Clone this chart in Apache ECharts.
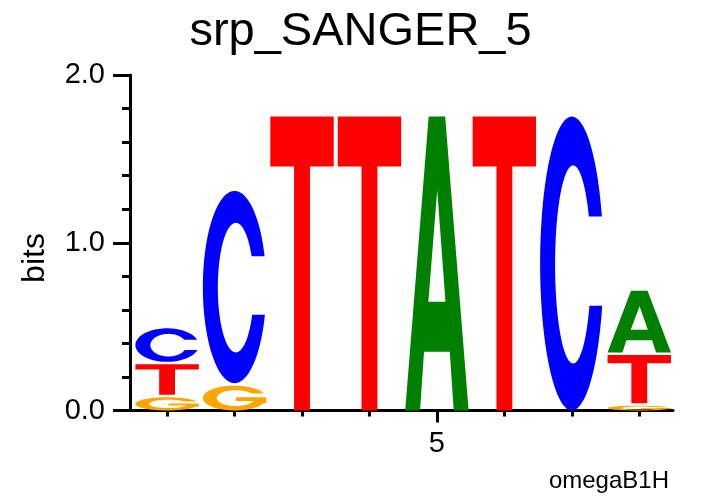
<!DOCTYPE html>
<html>
<head>
<meta charset="utf-8">
<script src="https://cdn.jsdelivr.net/npm/echarts@6/dist/echarts.min.js"></script>
<style>
html,body{margin:0;padding:0;background:#fff;}
#chart{width:721px;height:496px;}
</style>
</head>
<body>
<div id="chart"></div>
<script>
// ---- data (bits per letter at each position) ----
const titleText = 'srp_SANGER_5';
const yAxisName = 'bits';
const footnote = 'omegaB1H';
const positions = [1, 2, 3, 4, 5, 6, 7, 8];
const letters = ['A', 'C', 'G', 'T'];
const heightA = [0, 0, 0, 0, 1.752, 0, 0, 0.383];
const heightC = [0.215, 1.161, 0, 0, 0, 0, 1.752, 0];
const heightG = [0.079, 0.148, 0, 0, 0, 0, 0, 0.029];
const heightT = [0.196, 0, 1.752, 1.752, 0, 1.752, 0, 0.302];
const yTickValues = [0, 1, 2];
const xLabelValues = [5];
const xMinorTickValues = [1, 2, 3, 4, 6, 7, 8];

const letterColors = { A: '#008000', C: '#0000ff', G: '#ffa500', T: '#ff0000' };
const FONT = '"Liberation Sans", Arial, Helvetica, sans-serif';

// ---- glyph outlines (normalised 0..100 box, y down) ----
function arc(cx, cy, rx, ry, a0, a1, n) {
  const pts = [];
  for (let i = 0; i <= n; i++) {
    const a = (a0 + (a1 - a0) * i / n) * Math.PI / 180;
    pts.push([cx + rx * Math.cos(a), cy - ry * Math.sin(a)]);
  }
  return pts;
}
function deg(v) { return Math.asin(Math.max(-1, Math.min(1, v))) * 180 / Math.PI; }
function area(p) {
  let s = 0;
  for (let i = 0; i < p.length; i++) {
    const a = p[i], b = p[(i + 1) % p.length];
    s += a[0] * b[1] - b[0] * a[1];
  }
  return s;
}
function orient(p, positive) {
  const s = area(p);
  if ((s > 0) !== positive) return p.slice().reverse();
  return p;
}
function glyphC() {
  const ocx = 50, ocy = 50, orx = 50, ory = 50;
  const icx = 52, icy = 50.3, irx = 28.4, iry = 33.7;
  const yTop = 34, yBot = 64.4;
  const o0 = deg((ocy - yTop) / ory), o1 = 360 + deg((ocy - yBot) / ory);
  const i0 = deg((icy - yTop) / iry), i1 = 360 + deg((icy - yBot) / iry);
  const outer = arc(ocx, ocy, orx, ory, o0, o1, 90);
  const inner = arc(icx, icy, irx, iry, i1, i0, 90);
  return [outer.concat(inner)];
}
function glyphG() {
  const ocx = 50, ocy = 50, orx = 50, ory = 50;
  const icx = 52, icy = 50, irx = 30, iry = 32;
  const yTop = 32;
  const o0 = deg((ocy - yTop) / ory);
  const outer = arc(ocx, ocy, orx, ory, o0, 335, 90);
  const last = outer[outer.length - 1];
  const barTop = 47, barBot = 62, barLeft = 52;
  const ia = 360 + deg((icy - barBot) / iry);
  const i0 = deg((icy - yTop) / iry);
  const inner = arc(icx, icy, irx, iry, ia, i0, 90);
  const pts = outer.concat([[100, last[1]], [100, barTop], [barLeft, barTop], [barLeft, barBot]]).concat(inner);
  return [pts];
}
function glyphT() {
  return [[[0, 0], [100, 0], [100, 17], [62.5, 17], [62.5, 100], [37.5, 100], [37.5, 17], [0, 17]]];
}
function glyphA() {
  const outer = [[0, 100], [37, 0], [63, 0], [100, 100], [76.5, 100], [70.3, 80], [29.7, 80], [23.4, 100]];
  const hole = [[36.5, 63], [50.5, 25], [63.5, 63]];
  return [outer, hole];
}
const glyphs = { A: glyphA(), C: glyphC(), G: glyphG(), T: glyphT() };
Object.keys(glyphs).forEach(function (k) {
  glyphs[k] = glyphs[k].map(function (p, i) { return orient(p, i === 0); });
});

// ---- stack letters per position (smallest at bottom) ----
const heightsByLetter = { A: heightA, C: heightC, G: heightG, T: heightT };
const stackData = [];
positions.forEach(function (pos, idx) {
  const items = letters
    .map(function (l) { return { l: l, h: heightsByLetter[l][idx] }; })
    .filter(function (d) { return d.h > 0; })
    .sort(function (a, b) { return a.h - b.h; });
  let base = 0;
  items.forEach(function (d) {
    stackData.push([pos, base, d.h, letters.indexOf(d.l)]);
    base += d.h;
  });
});

const LETTER_WIDTH = 0.94;

function renderItem(params, api) {
  const pos = api.value(0), base = api.value(1), h = api.value(2);
  const letter = letters[api.value(3)];
  const tl = api.coord([pos - LETTER_WIDTH / 2, base + h]);
  const br = api.coord([pos + LETTER_WIDTH / 2, base]);
  const gap = base > 0 ? 2.5 : 0;
  const x0 = tl[0], y0 = tl[1];
  const w = br[0] - tl[0];
  const hh = Math.max(0.5, br[1] - gap - tl[1]);
  let d = '';
  glyphs[letter].forEach(function (poly) {
    poly.forEach(function (p, i) {
      const X = (x0 + p[0] / 100 * w).toFixed(2);
      const Y = (y0 + p[1] / 100 * hh).toFixed(2);
      d += (i === 0 ? 'M' : 'L') + X + ' ' + Y + ' ';
    });
    d += 'Z ';
  });
  return {
    type: 'path',
    shape: { pathData: d },
    style: { fill: letterColors[letter], stroke: null }
  };
}

const chart = echarts.init(document.getElementById('chart'), null, { renderer: 'canvas' });
chart.setOption({
  animation: false,
  backgroundColor: '#ffffff',
  title: {
    text: titleText,
    left: 'center',
    top: 4,
    textStyle: { fontFamily: FONT, fontSize: 47, fontWeight: 'normal', color: '#000' }
  },
  grid: { left: 130, right: 48, top: 75, bottom: 85.5, containLabel: false },
  xAxis: [
    {
      type: 'value', min: 0.45, max: 8.5, position: 'bottom',
      axisLine: { show: true, onZero: false, lineStyle: { color: '#000', width: 3 } },
      axisTick: { show: true, customValues: xMinorTickValues, length: 6, lineStyle: { color: '#000', width: 3 } },
      axisLabel: { show: false },
      splitLine: { show: false }
    },
    {
      type: 'value', min: 0.45, max: 8.5, position: 'bottom', gridIndex: 0,
      axisLine: { show: false, onZero: false },
      axisTick: { show: true, customValues: xLabelValues, length: 12, lineStyle: { color: '#000', width: 3 } },
      axisLabel: { show: true, customValues: xLabelValues, margin: 19, fontFamily: FONT, fontSize: 29, color: '#000' },
      splitLine: { show: false }
    }
  ],
  yAxis: {
    type: 'value', min: 0, max: 2, interval: 1,
    axisLine: { show: true, lineStyle: { color: '#000', width: 3 } },
    axisTick: { show: true, length: 17, lineStyle: { color: '#000', width: 3 } },
    minorTick: { show: true, splitNumber: 5, length: 8, lineStyle: { color: '#000', width: 3 } },
    axisLabel: {
      margin: 25, fontFamily: FONT, fontSize: 29, color: '#000',
      formatter: function (v) { return yTickValues.indexOf(v) >= 0 ? v.toFixed(1) : ''; }
    },
    splitLine: { show: false },
    minorSplitLine: { show: false }
  },
  graphic: [
    {
      type: 'text', x: 35, y: 258, rotation: Math.PI / 2,
      style: { text: yAxisName, font: '32px ' + FONT, fill: '#000', textAlign: 'center', textVerticalAlign: 'middle' }
    },
    {
      type: 'text', x: 669, y: 481,
      style: { text: footnote, font: '24px ' + FONT, fill: '#000', textAlign: 'right', textVerticalAlign: 'middle' }
    }
  ],
  series: [{
    type: 'custom',
    xAxisIndex: 0, yAxisIndex: 0,
    renderItem: renderItem,
    data: stackData,
    clip: false,
    z: 1
  }]
});
</script>
</body>
</html>
